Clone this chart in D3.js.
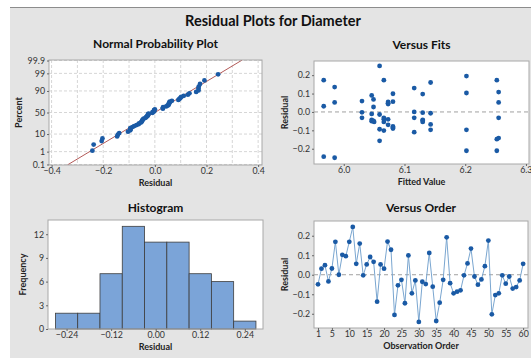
<!DOCTYPE html>
<html>
<head>
<meta charset="utf-8">
<script src="https://cdnjs.cloudflare.com/ajax/libs/d3/7.8.5/d3.min.js"></script>
<style>
  body { margin: 0; background: #fff; }
  svg { display: block; font-family: Lato, "Open Sans", sans-serif; }
</style>
</head>
<body>
<svg id="chart" width="531" height="358"></svg>
<script>
// residuals in observation order (1..60)
const residuals = [-0.049, 0.031, 0.049, -0.034, 0.032, 0.169, 0.000, 0.102, 0.095, 0.169,
  0.245, 0.056, 0.160, -0.003, 0.053, 0.091, 0.066, -0.138, 0.053, 0.031,
  0.170, 0.128, -0.206, -0.054, -0.026, -0.146, 0.099, -0.095, -0.029, -0.242,
  -0.036, -0.048, 0.112, -0.061, -0.237, -0.143, -0.026, 0.192, -0.043, -0.095,
  -0.087, -0.080, -0.003, 0.058, 0.134, -0.009, -0.051, -0.024, 0.044, 0.175,
  -0.203, -0.104, -0.095, -0.003, -0.046, -0.009, -0.071, -0.063, -0.029, 0.056];

// versus fits scatter
const fittedValues = [5.967, 5.967, 5.967, 5.985, 5.985, 5.985, 6.030, 6.030, 6.030, 6.046,
  6.046, 6.046, 6.046, 6.049, 6.049, 6.050, 6.059, 6.059, 6.059, 6.059,
  6.066, 6.066, 6.066, 6.066, 6.073, 6.073, 6.073, 6.073, 6.081, 6.081,
  6.081, 6.081, 6.116, 6.116, 6.116, 6.116, 6.130, 6.130, 6.130, 6.130,
  6.143, 6.143, 6.143, 6.143, 6.202, 6.202, 6.202, 6.202, 6.252, 6.255,
  6.255, 6.255, 6.252, 6.255, 6.252, 6.073, 6.130, 6.049, 6.081, 6.066];
const fitResiduals = [0.173, 0.031, -0.243, 0.135, 0.052, -0.249, 0.059, -0.002, -0.032, 0.090,
  -0.011, -0.043, -0.050, 0.068, 0.027, -0.054, 0.250, -0.014, -0.094, -0.157,
  0.173, -0.032, -0.054, -0.101, 0.054, 0.043, -0.040, -0.070, 0.099, 0.056,
  -0.079, -0.090, 0.130, 0.000, -0.032, -0.110, 0.097, -0.004, -0.043, -0.054,
  0.160, -0.007, -0.068, -0.097, 0.195, 0.103, -0.097, -0.211, 0.173, 0.108,
  0.052, -0.032, -0.148, -0.142, -0.211, 0.047, -0.047, -0.048, -0.084, -0.040];

// histogram
const binCenters = [-0.24, -0.18, -0.12, -0.06, 0.00, 0.06, 0.12, 0.18, 0.24];
const binCounts = [2, 2, 7, 13, 11, 11, 7, 6, 1];
const binWidth = 0.06;

// tick labels
const probTicks = [0.1, 1, 10, 50, 90, 99, 99.9];
const histXTicks = [-0.24, -0.12, 0.00, 0.12, 0.24];
const histYTicks = [0, 3, 6, 9, 12];
const fitXTicks = [6.0, 6.1, 6.2, 6.3];
const residTicks = [-0.2, -0.1, 0.0, 0.1, 0.2];
const orderTicks = [1, 5, 10, 15, 20, 25, 30, 35, 40, 45, 50, 55, 60];

const DOT = "#1a5aa5", LINE = "#7aa6d0", BAR = "#7ba4d8", FIT = "#b35a58";

// inverse normal cdf (Acklam)
function qnorm(p) {
  const a = [-39.69683028665376, 220.9460984245205, -275.9285104469687, 138.3577518672690, -30.66479806614716, 2.506628277459239];
  const b = [-54.47609879822406, 161.5858368580409, -155.6989798598866, 66.80131188771972, -13.28068155288572];
  const c = [-0.007784894002430293, -0.3223964580411365, -2.400758277161838, -2.549671010115464, 4.374664141464968, 2.938163982698783];
  const d = [0.007784695709041462, 0.3224671290700398, 2.445134137142996, 3.754408661907416];
  let q, r;
  if (p < 0.02425 || p > 0.97575) {
    q = Math.sqrt(-2 * Math.log(p < 0.5 ? p : 1 - p));
    const v = (((((c[0]*q+c[1])*q+c[2])*q+c[3])*q+c[4])*q+c[5]) / ((((d[0]*q+d[1])*q+d[2])*q+d[3])*q+1);
    return p < 0.5 ? v : -v;
  }
  q = p - 0.5; r = q * q;
  return (((((a[0]*r+a[1])*r+a[2])*r+a[3])*r+a[4])*r+a[5])*q / (((((b[0]*r+b[1])*r+b[2])*r+b[3])*r+b[4])*r+1);
}

const svg = d3.select("#chart");

// grey background
svg.append("rect").attr("x", 10).attr("y", 7).attr("width", 521).attr("height", 351).attr("fill", "#e4e4e4");
svg.append("line").attr("x1", 10).attr("x2", 531).attr("y1", 7.5).attr("y2", 7.5).attr("stroke", "#8c8c8c");

svg.append("text").attr("x", 273).attr("y", 26).attr("text-anchor", "middle")
  .style("font-size", "14.5px").style("font-weight", "bold").attr("fill", "#111")
  .text("Residual Plots for Diameter");

function panel(box, title, titleGap, xLabel, yLabel, yLabelX) {
  const g = svg.append("g");
  g.append("rect").attr("x", box.x0).attr("y", box.y0)
    .attr("width", box.x1 - box.x0).attr("height", box.y1 - box.y0)
    .attr("fill", "#fff");
  const cx = (box.x0 + box.x1) / 2;
  g.append("text").attr("x", cx).attr("y", box.y0 - titleGap).attr("text-anchor", "middle")
    .style("font-size", "12px").style("font-weight", "bold").attr("fill", "#111").text(title);
  g.append("text").attr("x", cx).attr("y", box.y1 + 21).attr("text-anchor", "middle")
    .style("font-size", "9px").style("font-weight", "bold").attr("fill", "#222").text(xLabel);
  const cy = (box.y0 + box.y1) / 2;
  g.append("text").attr("transform", `translate(${yLabelX},${cy}) rotate(-90)`).attr("text-anchor", "middle")
    .style("font-size", "9px").style("font-weight", "bold").attr("fill", "#222").text(yLabel);
  return g;
}

function styleAxis(sel) {
  sel.select(".domain").remove();
  sel.selectAll(".tick line").attr("stroke", "#666");
  sel.selectAll(".tick text").attr("fill", "#333").style("font-size", "8.8px")
    .style("font-family", "Lato, 'Open Sans', sans-serif");
}

function border(g, box) {
  g.append("rect").attr("x", box.x0).attr("y", box.y0)
    .attr("width", box.x1 - box.x0).attr("height", box.y1 - box.y0)
    .attr("fill", "none").attr("stroke", "#a8a8a8");
}

// ---------- Normal Probability Plot ----------
{
  const box = { x0: 49, x1: 262, y0: 60, y1: 165 };
  const g = panel(box, "Normal Probability Plot", 12, "Residual", "Percent", 22);
  const x = d3.scaleLinear().domain([-0.41, 0.415]).range([box.x0, box.x1]);
  const y = d3.scaleLinear().domain([qnorm(0.0009), qnorm(0.9991)]).range([box.y1, box.y0]);

  // grid
  g.selectAll(".vg").data(d3.range(-4, 5).map(i => i / 10)).join("line")
    .attr("x1", d => x(d)).attr("x2", d => x(d)).attr("y1", box.y0).attr("y2", box.y1)
    .attr("stroke", "#d6d6d6").attr("stroke-dasharray", "3,2");
  g.selectAll(".hg").data(probTicks).join("line")
    .attr("x1", box.x0).attr("x2", box.x1).attr("y1", d => y(qnorm(d / 100))).attr("y2", d => y(qnorm(d / 100)))
    .attr("stroke", "#d6d6d6").attr("stroke-dasharray", "3,2");

  const clip = svg.append("clipPath").attr("id", "clipNP");
  clip.append("rect").attr("x", box.x0).attr("y", box.y0).attr("width", box.x1 - box.x0).attr("height", box.y1 - box.y0);

  const mu = d3.mean(residuals), sd = d3.deviation(residuals);
  const zr = y.domain();
  g.append("line").attr("clip-path", "url(#clipNP)")
    .attr("x1", x(mu + sd * zr[0])).attr("y1", y(zr[0]))
    .attr("x2", x(mu + sd * zr[1])).attr("y2", y(zr[1]))
    .attr("stroke", FIT).attr("stroke-width", 1);

  const sorted = residuals.slice().sort(d3.ascending);
  const n = sorted.length;
  g.selectAll(".pt").data(sorted).join("circle")
    .attr("cx", d => x(d)).attr("cy", (d, i) => y(qnorm((i + 1 - 0.3) / (n + 0.4))))
    .attr("r", 2.4).attr("fill", DOT);

  border(g, box);
  g.append("g").attr("transform", `translate(0,${box.y1})`)
    .call(d3.axisBottom(x).tickValues([-0.4, -0.2, 0, 0.2, 0.4]).tickFormat(d3.format(".1f")).tickSize(2).tickPadding(1))
    .call(styleAxis);
  g.append("g").attr("transform", `translate(${box.x0},0)`)
    .call(d3.axisLeft(y).tickValues(probTicks.map(p => qnorm(p / 100))).tickFormat((d, i) => probTicks[i]).tickSize(2).tickPadding(2))
    .call(styleAxis);
}

// ---------- Versus Fits ----------
{
  const box = { x0: 314, x1: 529, y0: 61, y1: 164 };
  const g = panel(box, "Versus Fits", 12.5, "Fitted Value", "Residual", 288);
  const x = d3.scaleLinear().domain([5.951, 6.305]).range([box.x0, box.x1]);
  const y = d3.scaleLinear().domain([-0.283, 0.277]).range([box.y1, box.y0]);
  g.append("line").attr("x1", box.x0).attr("x2", box.x1).attr("y1", y(0)).attr("y2", y(0))
    .attr("stroke", "#a0a0a0").attr("stroke-dasharray", "4,3");
  g.selectAll(".pt").data(fittedValues).join("circle")
    .attr("cx", d => x(d)).attr("cy", (d, i) => y(fitResiduals[i]))
    .attr("r", 2.4).attr("fill", DOT);
  border(g, box);
  const xa = g.append("g").attr("transform", `translate(0,${box.y1})`)
    .call(d3.axisBottom(x).tickValues(fitXTicks).tickFormat(d3.format(".1f")).tickSize(2).tickPadding(1))
    .call(styleAxis);
  // keep the last label inside the window
  xa.selectAll(".tick text").filter(d => d === 6.3).attr("text-anchor", "end").attr("dx", "6");
  g.append("g").attr("transform", `translate(${box.x0},0)`)
    .call(d3.axisLeft(y).tickValues(residTicks).tickFormat(d3.format(".1f")).tickSize(2).tickPadding(2))
    .call(styleAxis);
}

// ---------- Histogram ----------
{
  const box = { x0: 48, x1: 263, y0: 220, y1: 329 };
  const g = panel(box, "Histogram", 8.5, "Residual", "Frequency", 26);
  const x = d3.scaleLinear().domain([-0.29, 0.289]).range([box.x0, box.x1]);
  const y = d3.scaleLinear().domain([0, 13.8]).range([box.y1, box.y0]);
  g.selectAll(".bar").data(binCenters).join("rect")
    .attr("x", d => x(d - binWidth / 2)).attr("width", d => x(d + binWidth / 2) - x(d - binWidth / 2))
    .attr("y", (d, i) => y(binCounts[i])).attr("height", (d, i) => y(0) - y(binCounts[i]))
    .attr("fill", BAR).attr("stroke", "#3d3d3d").attr("stroke-width", 0.8);
  border(g, box);
  g.append("g").attr("transform", `translate(0,${box.y1})`)
    .call(d3.axisBottom(x).tickValues(histXTicks).tickFormat(d3.format(".2f")).tickSize(2).tickPadding(1))
    .call(styleAxis);
  g.append("g").attr("transform", `translate(${box.x0},0)`)
    .call(d3.axisLeft(y).tickValues(histYTicks).tickSize(2).tickPadding(2))
    .call(styleAxis);
}

// ---------- Versus Order ----------
{
  const box = { x0: 314, x1: 528, y0: 221, y1: 328 };
  const g = panel(box, "Versus Order", 9, "Observation Order", "Residual", 288);
  const x = d3.scaleLinear().domain([-0.15, 61.4]).range([box.x0, box.x1]);
  const y = d3.scaleLinear().domain([-0.273, 0.2755]).range([box.y1, box.y0]);
  g.append("line").attr("x1", box.x0).attr("x2", box.x1).attr("y1", y(0)).attr("y2", y(0))
    .attr("stroke", "#a0a0a0").attr("stroke-dasharray", "4,3");
  g.append("path").datum(residuals)
    .attr("d", d3.line().x((d, i) => x(i + 1)).y(d => y(d)))
    .attr("fill", "none").attr("stroke", LINE).attr("stroke-width", 1);
  g.selectAll(".pt").data(residuals).join("circle")
    .attr("cx", (d, i) => x(i + 1)).attr("cy", d => y(d))
    .attr("r", 2.4).attr("fill", DOT);
  border(g, box);
  g.append("g").attr("transform", `translate(0,${box.y1})`)
    .call(d3.axisBottom(x).tickValues(orderTicks).tickSize(2).tickPadding(1))
    .call(styleAxis);
  g.append("g").attr("transform", `translate(${box.x0},0)`)
    .call(d3.axisLeft(y).tickValues(residTicks).tickFormat(d3.format(".1f")).tickSize(2).tickPadding(2))
    .call(styleAxis);
}
</script>
</body>
</html>
